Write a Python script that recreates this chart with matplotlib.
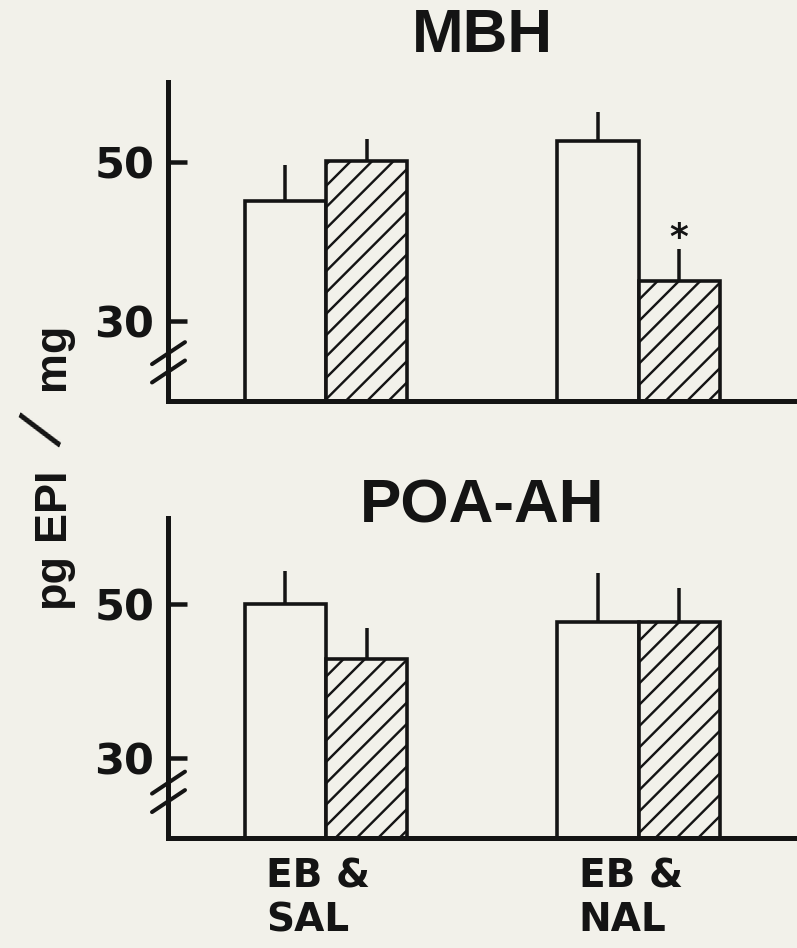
import numpy as np
import matplotlib
matplotlib.use("Agg")
import matplotlib.pyplot as plt
import matplotlib.transforms as mtransforms

# valores (pg EPI / mg)
grupos = ["EB &\nSAL", "EB &\nNAL"]

mbh_blanco = [45.1, 52.6]
mbh_blanco_err = [4.5, 3.6]
mbh_rayado = [50.1, 35.0]
mbh_rayado_err = [2.8, 4.1]

poa_blanco = [50.0, 47.7]
poa_blanco_err = [4.3, 6.3]
poa_rayado = [42.9, 47.7]
poa_rayado_err = [4.0, 4.4]

marcas_y = [30, 50]
significativo_mbh = [False, True]  # asterisco sobre la barra rayada

DPI = 128
W, H = 797, 948
FONDO = "#f2f1ea"
TINTA = "#141414"


def px(v):
    # pixeles -> puntos
    return v * 72 / DPI


plt.rcParams["hatch.linewidth"] = px(2.4)
plt.rcParams["hatch.color"] = TINTA

fig = plt.figure(figsize=(W / DPI, H / DPI), dpi=DPI, facecolor=FONDO)

ax_top = fig.add_axes([168 / W, 1 - 401 / H, 1 - 168 / W, (401 - 82) / H])
ax_bot = fig.add_axes([168 / W, 1 - 838 / H, 1 - 168 / W, (838 - 518) / H])

x = np.arange(len(grupos))
ancho = 0.26


def panel(ax, blanco, blanco_err, rayado, rayado_err, ylim, cortes, titulo, titulo_y):
    ax.set_facecolor(FONDO)
    ax.bar(x - ancho / 2, blanco, ancho, color=FONDO, edgecolor=TINTA,
           linewidth=px(3.6), zorder=2)
    ax.bar(x + ancho / 2, rayado, ancho, color=FONDO, edgecolor=TINTA,
           linewidth=px(3.6), hatch="//", zorder=2)
    ax.errorbar(x - ancho / 2, blanco, yerr=[np.zeros(len(x)), blanco_err],
                fmt="none", ecolor=TINTA, elinewidth=px(3.5), capsize=0, zorder=3)
    ax.errorbar(x + ancho / 2, rayado, yerr=[np.zeros(len(x)), rayado_err],
                fmt="none", ecolor=TINTA, elinewidth=px(3.5), capsize=0, zorder=3)

    ax.set_xlim(-0.506, 1.507)
    ax.set_ylim(*ylim)
    ax.spines["top"].set_visible(False)
    ax.spines["right"].set_visible(False)
    for lado in ["left", "bottom"]:
        ax.spines[lado].set_linewidth(px(5))
        ax.spines[lado].set_color(TINTA)

    ax.set_yticks(marcas_y)
    ax.set_yticklabels([str(m) for m in marcas_y], fontfamily="DejaVu Sans",
                       fontweight="bold", fontsize=px(43))
    ax.tick_params(axis="y", direction="in", length=px(19), width=px(4.5),
                   pad=px(14), colors=TINTA)

    # marcas de corte del eje
    ancho_px = ax.get_position().width * W
    alto_px = ax.get_position().height * H
    unidad = alto_px / (ylim[1] - ylim[0])
    trans = mtransforms.blended_transform_factory(ax.transAxes, ax.transData)
    for yc in cortes:
        ax.plot([-16 / ancho_px, 17 / ancho_px], [yc - 11 / unidad, yc + 11 / unidad],
                color=TINTA, lw=px(4), transform=trans, clip_on=False,
                solid_capstyle="round", zorder=5)

    fig.text(482 / W, 1 - titulo_y / H, titulo, ha="center", va="center",
             fontfamily="Liberation Sans", fontweight="bold", fontsize=px(62),
             color=TINTA)


panel(ax_top, mbh_blanco, mbh_blanco_err, mbh_rayado, mbh_rayado_err,
      (20, 60), [26.0, 23.7], "MBH", 37)
panel(ax_bot, poa_blanco, poa_blanco_err, poa_rayado, poa_rayado_err,
      (19.6, 61.2), [26.8, 24.4], "POA-AH", 507)

for i, sig in enumerate(significativo_mbh):
    if sig:
        ax_top.annotate("*", (x[i] + ancho / 2, mbh_rayado[i] + mbh_rayado_err[i]),
                        xytext=(0, px(1)), textcoords="offset points",
                        ha="center", va="baseline", fontsize=px(36),
                        fontweight="bold", fontfamily="DejaVu Sans", color=TINTA)

ax_top.set_xticks([])
ax_bot.set_xticks(x)
ax_bot.set_xticklabels(grupos, fontfamily="DejaVu Sans", fontweight="bold",
                       fontsize=px(39), linespacing=1.2, multialignment="left")
ax_bot.tick_params(axis="x", length=0, pad=px(19), colors=TINTA)
corrimiento = mtransforms.ScaledTranslation(-8 / DPI, 0, fig.dpi_scale_trans)
for lbl in ax_bot.get_xticklabels():
    lbl.set_transform(lbl.get_transform() + corrimiento)

# etiqueta del eje y, por partes para respetar el espaciado
partes = [("pg", 581), ("EPI", 504), ("mg", 356)]
for txt, yc in partes:
    fig.text(64 / W, 1 - yc / H, txt, rotation=90, rotation_mode="anchor",
             ha="center", va="baseline", fontfamily="Liberation Sans",
             fontweight="bold", fontsize=px(45), color=TINTA)
# la barra es larga y poco inclinada en el original
fig.text(47 / W, 1 - 432 / H, "/", rotation=68, ha="center", va="center",
         fontfamily="Liberation Sans", fontsize=px(66), color=TINTA)

fig.savefig("out.png", dpi=DPI, facecolor=FONDO)
